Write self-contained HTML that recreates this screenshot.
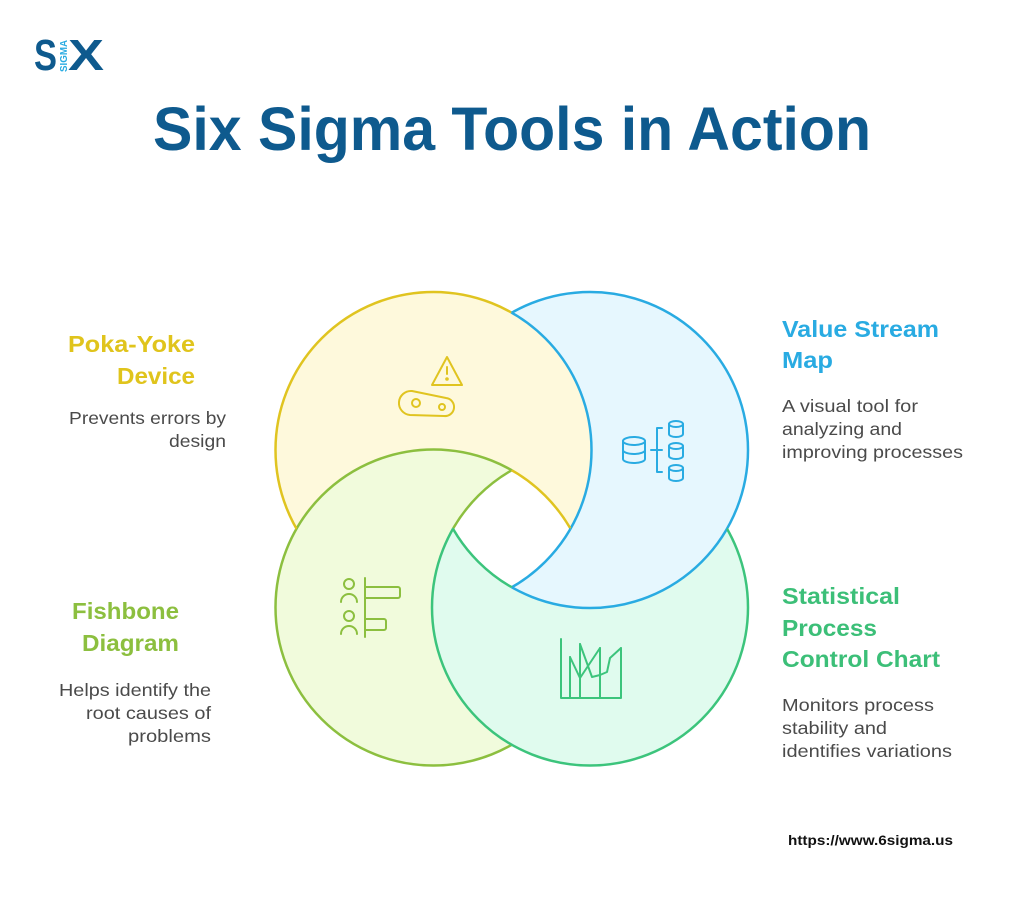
<!DOCTYPE html>
<html><head><meta charset="utf-8"><style>
html,body{margin:0;padding:0;background:#fff;}
svg{display:block;}
text{font-family:"Liberation Sans",sans-serif;}
</style></head><body>
<svg width="1024" height="900" viewBox="0 0 1024 900" xmlns="http://www.w3.org/2000/svg">
<defs>
<clipPath id="cY"><circle cx="433.5" cy="450" r="158"/></clipPath>
<clipPath id="cB"><circle cx="590" cy="450" r="158"/></clipPath>
<clipPath id="cL"><circle cx="433.5" cy="607.5" r="158"/></clipPath>
<clipPath id="cG"><circle cx="590" cy="607.5" r="158"/></clipPath>
<mask id="notB"><rect width="1024" height="900" fill="#fff"/><circle cx="590" cy="450" r="158" fill="#000"/></mask>
<mask id="notY"><rect width="1024" height="900" fill="#fff"/><circle cx="433.5" cy="450" r="158" fill="#000"/></mask>
<mask id="notL"><rect width="1024" height="900" fill="#fff"/><circle cx="433.5" cy="607.5" r="158" fill="#000"/></mask>
<mask id="notG"><rect width="1024" height="900" fill="#fff"/><circle cx="590" cy="607.5" r="158" fill="#000"/></mask>
</defs>
<!-- logo -->
<text x="34" y="70" font-size="44" font-weight="bold" fill="#0e5a8e" textLength="23" lengthAdjust="spacingAndGlyphs">S</text>
<text x="0" y="0" font-size="10" font-weight="bold" fill="#29abe2" transform="translate(67,72) rotate(-90)" textLength="32" lengthAdjust="spacingAndGlyphs">SIGMA</text>
<text x="68" y="70" font-size="44" font-weight="bold" fill="#0e5a8e" textLength="36" lengthAdjust="spacingAndGlyphs">X</text>
<!-- title -->
<text x="153" y="150" font-size="61" font-weight="bold" fill="#0e5a8e" textLength="718" lengthAdjust="spacingAndGlyphs">Six Sigma Tools in Action</text>

<!-- base fills -->
<circle cx="590" cy="607.5" r="158" fill="#e0fbee"/>
<circle cx="590" cy="450" r="158" fill="#e6f7fe"/>
<circle cx="433.5" cy="450" r="158" fill="#fef9dc"/>
<circle cx="433.5" cy="607.5" r="158" fill="#f1fbdc"/>
<g mask="url(#notG)"><circle cx="433.5" cy="607.5" r="158" fill="#f1fbdc"/></g>
<g mask="url(#notL)"><circle cx="433.5" cy="450" r="158" fill="#fef9dc"/></g>
<g mask="url(#notY)"><circle cx="590" cy="450" r="158" fill="#e6f7fe"/></g>
<g mask="url(#notB)"><circle cx="590" cy="607.5" r="158" fill="#e0fbee"/></g>
<!-- hole -->
<g clip-path="url(#cY)"><g clip-path="url(#cB)"><g clip-path="url(#cL)"><circle cx="590" cy="607.5" r="158" fill="#fff"/></g></g></g>

<!-- strokes -->
<g fill="none" stroke-width="2.5">
<g mask="url(#notG)"><circle cx="433.5" cy="607.5" r="158" stroke="#8cbf3f"/></g>
<g mask="url(#notL)"><g mask="url(#notB)"><circle cx="433.5" cy="450" r="158" stroke="#e0c420"/></g></g>
<g mask="url(#notL)"><g clip-path="url(#cB)"><circle cx="433.5" cy="450" r="158" stroke="#29abe2"/></g></g>
<g mask="url(#notY)"><circle cx="590" cy="450" r="158" stroke="#29abe2"/></g>
<g mask="url(#notB)"><circle cx="590" cy="607.5" r="158" stroke="#3cc47c"/></g>
<g clip-path="url(#cY)"><g clip-path="url(#cB)"><g clip-path="url(#cL)"><circle cx="590" cy="607.5" r="158" stroke="#8cbf3f"/></g></g></g>
<g clip-path="url(#cY)"><g clip-path="url(#cB)"><g clip-path="url(#cG)"><circle cx="433.5" cy="607.5" r="158" stroke="#e0c420"/></g></g></g>
<g clip-path="url(#cB)"><g clip-path="url(#cG)"><g clip-path="url(#cL)"><circle cx="433.5" cy="450" r="158" stroke="#29abe2"/></g></g></g>
<g clip-path="url(#cY)"><g clip-path="url(#cG)"><g clip-path="url(#cL)"><circle cx="590" cy="450" r="158" stroke="#3cc47c"/></g></g></g>
</g>

<!-- icons -->
<g fill="none" stroke-width="2" stroke-linecap="round" stroke-linejoin="round">
<g stroke="#e0c420">
<path d="M447 357 L462 385 L432 385 Z"/><line x1="447" y1="367" x2="447" y2="374"/><circle cx="447" cy="379" r="0.8"/>
<path d="M412 391 L446 398 A9 9 0 0 1 444 416 L410 415 A12 12 0 0 1 412 391 Z"/>
<circle cx="416" cy="403" r="4"/><circle cx="442" cy="407" r="3"/>
</g>
<g stroke="#29abe2">
<ellipse cx="634" cy="441" rx="11" ry="4"/><path d="M623 441 V459 A11 4 0 0 0 645 459 V441 M623 450 A11 4 0 0 0 645 450"/>
<path d="M651 450 H662 M662 428 H657 V472 H662"/>
<ellipse cx="676" cy="424" rx="7" ry="3"/><path d="M669 424 V434 A7 3 0 0 0 683 434 V424"/>
<ellipse cx="676" cy="446" rx="7" ry="3"/><path d="M669 446 V456 A7 3 0 0 0 683 456 V446"/>
<ellipse cx="676" cy="468" rx="7" ry="3"/><path d="M669 468 V478 A7 3 0 0 0 683 478 V468"/>
</g>
<g stroke="#8cbf3f">
<circle cx="349" cy="584" r="5"/><path d="M341 602 A8 8 0 0 1 357 602"/>
<circle cx="349" cy="616" r="5"/><path d="M341 634 A8 8 0 0 1 357 634"/>
<line x1="365" y1="578" x2="365" y2="637"/>
<path d="M365 587 H398 A2 2 0 0 1 400 589 V596 A2 2 0 0 1 398 598 H365"/>
<path d="M365 619 H384 A2 2 0 0 1 386 621 V628 A2 2 0 0 1 384 630 H365"/>
</g>
<g stroke="#3cc47c">
<path d="M561 639 V698 H621 V648 M570 698 V657 M580 698 V644 M600 698 V648"/>
<polyline points="570,657 580,678 600,648"/>
<polyline points="580,644 592,677 600,675 607,672 610,658 621,648"/>
</g>
</g>

<!-- labels -->
<g font-weight="bold" font-size="23">
<text x="68" y="352" fill="#e0c41c" textLength="127" lengthAdjust="spacingAndGlyphs">Poka-Yoke</text>
<text x="117" y="384" fill="#e0c41c" textLength="78" lengthAdjust="spacingAndGlyphs">Device</text>
<text x="782" y="337" fill="#29abe2" textLength="157" lengthAdjust="spacingAndGlyphs">Value Stream</text>
<text x="782" y="368" fill="#29abe2" textLength="51" lengthAdjust="spacingAndGlyphs">Map</text>
<text x="72" y="619" fill="#8cbf3f" textLength="107" lengthAdjust="spacingAndGlyphs">Fishbone</text>
<text x="82" y="651" fill="#8cbf3f" textLength="97" lengthAdjust="spacingAndGlyphs">Diagram</text>
<text x="782" y="604" fill="#3cbf78" textLength="118" lengthAdjust="spacingAndGlyphs">Statistical</text>
<text x="782" y="636" fill="#3cbf78" textLength="95" lengthAdjust="spacingAndGlyphs">Process</text>
<text x="782" y="667" fill="#3cbf78" textLength="158" lengthAdjust="spacingAndGlyphs">Control Chart</text>
</g>
<g font-size="17.5" fill="#4a4a4a">
<text x="69" y="424" textLength="157" lengthAdjust="spacingAndGlyphs">Prevents errors by</text>
<text x="169" y="447" textLength="57" lengthAdjust="spacingAndGlyphs">design</text>
<text x="782" y="412" textLength="136" lengthAdjust="spacingAndGlyphs">A visual tool for</text>
<text x="782" y="435" textLength="120" lengthAdjust="spacingAndGlyphs">analyzing and</text>
<text x="782" y="458" textLength="181" lengthAdjust="spacingAndGlyphs">improving processes</text>
<text x="59" y="696" textLength="152" lengthAdjust="spacingAndGlyphs">Helps identify the</text>
<text x="86" y="719" textLength="125" lengthAdjust="spacingAndGlyphs">root causes of</text>
<text x="128" y="742" textLength="83" lengthAdjust="spacingAndGlyphs">problems</text>
<text x="782" y="711" textLength="152" lengthAdjust="spacingAndGlyphs">Monitors process</text>
<text x="782" y="734" textLength="105" lengthAdjust="spacingAndGlyphs">stability and</text>
<text x="782" y="757" textLength="170" lengthAdjust="spacingAndGlyphs">identifies variations</text>
</g>
<text x="788" y="845" font-size="14" font-weight="bold" fill="#111" textLength="165" lengthAdjust="spacingAndGlyphs">https://www.6sigma.us</text>
</svg>
</body></html>
